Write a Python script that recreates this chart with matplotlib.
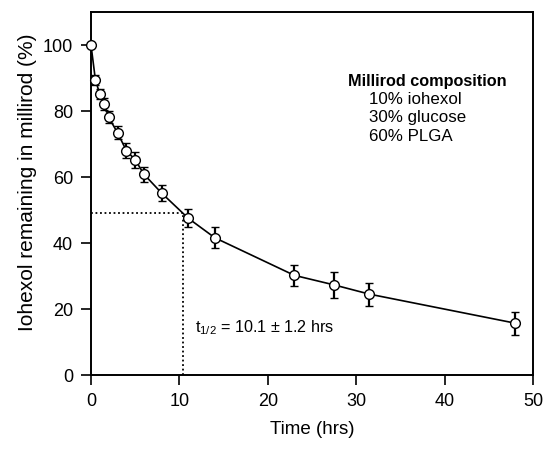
import matplotlib
matplotlib.use("Agg")
import matplotlib.pyplot as plt

plt.rcParams['font.family'] = ['Liberation Sans', 'DejaVu Sans']

time_hrs = [0, 0.5, 1, 1.5, 2, 3, 4, 5, 6, 8, 11, 14, 23, 27.5, 31.5, 48]
remaining = [100, 89.4, 85.1, 82.1, 78.1, 73.4, 68.0, 65.2, 60.8, 55.1, 47.5, 41.6, 30.2, 27.3, 24.5, 15.7]
err = [0, 1.5, 1.6, 1.7, 1.8, 2.0, 2.3, 2.5, 2.2, 2.4, 2.7, 3.2, 3.1, 3.9, 3.5, 3.5]
half_life_t = 10.4
half_level = 49.2
x_ticks = [0, 10, 20, 30, 40, 50]
y_ticks = [0, 20, 40, 60, 80, 100]

fig = plt.figure(figsize=(5.46, 4.49), dpi=100)
ax = fig.add_axes([91/546, 1-375/449, (533-91)/546, (375-12)/449])

ax.plot([0, half_life_t], [half_level, half_level], ls=(0, (1, 1.5)), color='black', lw=1.3)
ax.plot([half_life_t, half_life_t], [0, half_level], ls=(0, (1, 1.5)), color='black', lw=1.3)

ax.errorbar(time_hrs, remaining, yerr=err, fmt='-o', color='black', lw=1.2,
            mfc='white', mec='black', ms=7, mew=1.0, ecolor='black',
            elinewidth=1.6, capsize=3, capthick=1.8, clip_on=False, zorder=3)

ax.set_xlim(0, 50)
ax.set_ylim(0, 110)
ax.set_xticks(x_ticks)
ax.set_yticks(y_ticks)
ax.tick_params(direction='out', length=7, width=1.2, labelsize=13, pad=6)
for s in ax.spines.values():
    s.set_linewidth(1.4)

ax.set_xlabel('Time (hrs)', fontsize=13.5, labelpad=8)
ax.set_ylabel('Iohexol remaining in millirod (%)', fontsize=15)
ax.yaxis.set_label_coords(-0.122, 0.53)

ax.text(38, 89, 'Millirod composition', fontsize=11.7, fontweight='bold', ha='center', va='center')
ax.text(31.4, 83.6, '10% iohexol', fontsize=12.2, ha='left', va='center')
ax.text(31.4, 77.9, '30% glucose', fontsize=12.2, ha='left', va='center')
ax.text(31.4, 72.4, '60% PLGA', fontsize=12.2, ha='left', va='center')
ax.text(11.8, 14.2, r'$\mathregular{t_{1/2}}$ = 10.1 ± 1.2 hrs', fontsize=11.6, ha='left', va='center')

fig.savefig('out.png', dpi=100)
